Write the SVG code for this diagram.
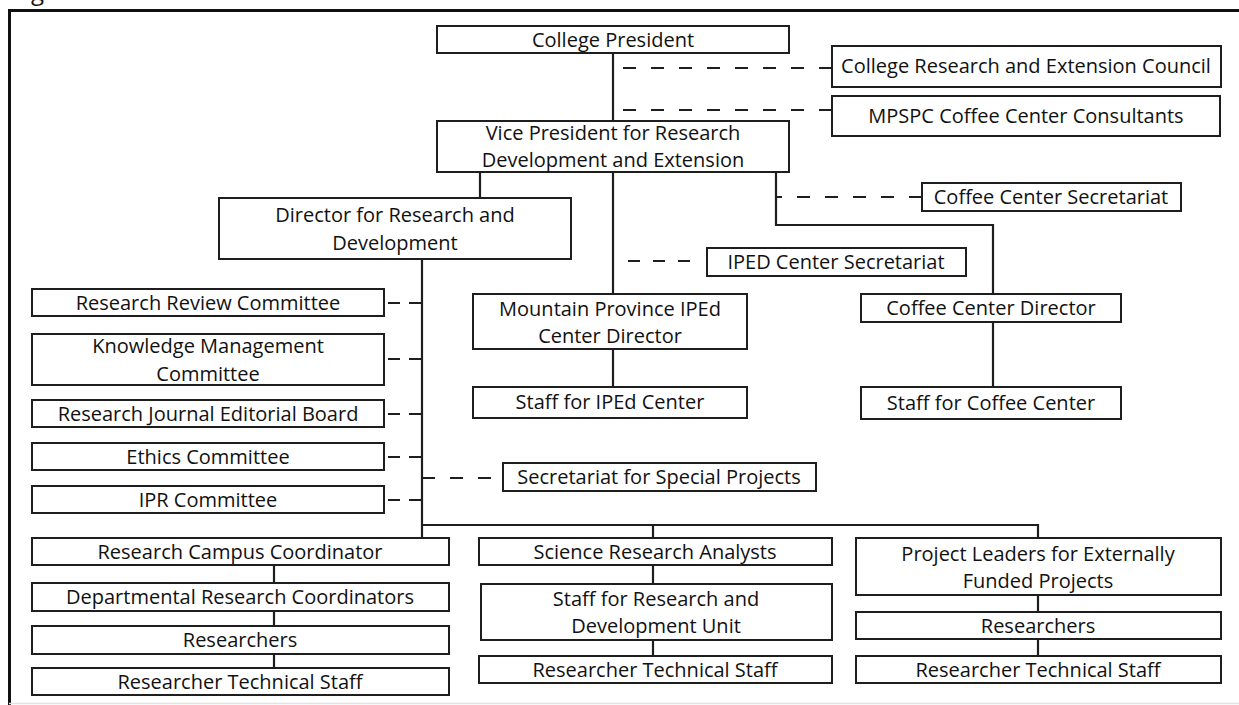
<svg xmlns="http://www.w3.org/2000/svg" width="1239" height="705" viewBox="0 0 1239 705">
<style>
.box{fill:#fff;stroke:#1e1e1e;stroke-width:2}
.t{font-family:"Open Sans","Liberation Sans",sans-serif;font-size:20px;fill:#111;text-anchor:middle}
.c{fill:none;stroke:#1e1e1e;stroke-width:2.2}
.d{fill:none;stroke:#1e1e1e;stroke-width:2.2;stroke-dasharray:13 15}
.ds{fill:none;stroke:#1e1e1e;stroke-width:2.2;stroke-dasharray:12 9}
</style>
<rect x="0" y="0" width="1239" height="705" fill="#fff"/>
<text x="31" y="0" style="font-family:'Open Sans','Liberation Sans',sans-serif;font-size:24px;fill:#111">g</text>
<path d="M9.5,705 V10.5 H1239" fill="none" stroke="#111" stroke-width="3"/>
<line x1="9" y1="703.5" x2="1239" y2="703.5" stroke="#e2e2e2" stroke-width="1.5"/>

<g id="connectors">
<path class="c" d="M613,53 V121"/>
<path class="c" d="M613,172 V294"/>
<path class="c" d="M480,172 V198"/>
<path class="c" d="M776,172 V225 H993 V294"/>
<path class="c" d="M613,349 V387"/>
<path class="c" d="M993,322 V387"/>
<path class="c" d="M422,259 V538"/>
<path class="c" d="M422,525 H1038 V538"/>
<path class="c" d="M653,525 V538"/>
<path class="c" d="M274,565 V583 M274,611 V626 M274,654 V668"/>
<path class="c" d="M653,565 V584 M653,640 V656"/>
<path class="c" d="M1038,595 V612 M1038,639 V656"/>
<path class="d" d="M832,68 H613"/>
<path class="d" d="M832,110 H613"/>
<path class="d" d="M922,197 H776"/>
<path class="c" style="stroke-dasharray:12 13" d="M628,261 H693"/>
<path class="ds" d="M388,303 H422 M388,359 H422 M388,414 H422 M388,457 H422 M388,500 H422"/>
<path class="d" d="M422,478 H491"/>
</g>

<g id="college-president"><rect class="box" x="437" y="26" width="352" height="27"/><text class="t" x="613" y="47">College President</text></g>
<g id="research-council"><rect class="box" x="832" y="46" width="389" height="41"/><text class="t" x="1026" y="73">College Research and Extension Council</text></g>
<g id="coffee-consultants"><rect class="box" x="832" y="96" width="388" height="40"/><text class="t" x="1026" y="123">MPSPC Coffee Center Consultants</text></g>
<g id="vice-president"><rect class="box" x="437" y="121" width="352" height="51"/><text class="t" x="613" y="140">Vice President for Research</text><text class="t" x="613" y="167">Development and Extension</text></g>
<g id="coffee-secretariat"><rect class="box" x="922" y="183" width="259" height="28"/><text class="t" x="1051" y="204">Coffee Center Secretariat</text></g>
<g id="director-rd"><rect class="box" x="219" y="198" width="352" height="61"/><text class="t" x="395" y="222">Director for Research and</text><text class="t" x="395" y="250">Development</text></g>
<g id="iped-secretariat"><rect class="box" x="707" y="248" width="259" height="28"/><text class="t" x="836" y="269">IPED Center Secretariat</text></g>
<g id="iped-director"><rect class="box" x="473" y="294" width="274" height="55"/><text class="t" x="610" y="316">Mountain Province IPEd</text><text class="t" x="610" y="343">Center Director</text></g>
<g id="coffee-director"><rect class="box" x="861" y="294" width="260" height="28"/><text class="t" x="991" y="315">Coffee Center Director</text></g>
<g id="iped-staff"><rect class="box" x="473" y="387" width="274" height="31"/><text class="t" x="610" y="409">Staff for IPEd Center</text></g>
<g id="coffee-staff"><rect class="box" x="861" y="387" width="260" height="32"/><text class="t" x="991" y="410">Staff for Coffee Center</text></g>
<g id="review-committee"><rect class="box" x="32" y="289" width="352" height="27"/><text class="t" x="208" y="310">Research Review Committee</text></g>
<g id="km-committee"><rect class="box" x="32" y="334" width="352" height="51"/><text class="t" x="208" y="353">Knowledge Management</text><text class="t" x="208" y="381">Committee</text></g>
<g id="journal-board"><rect class="box" x="32" y="400" width="352" height="27"/><text class="t" x="208" y="421">Research Journal Editorial Board</text></g>
<g id="ethics-committee"><rect class="box" x="32" y="443" width="352" height="27"/><text class="t" x="208" y="464">Ethics Committee</text></g>
<g id="ipr-committee"><rect class="box" x="32" y="486" width="352" height="27"/><text class="t" x="208" y="507">IPR Committee</text></g>
<g id="special-projects"><rect class="box" x="503" y="463" width="313" height="28"/><text class="t" x="659" y="484">Secretariat for Special Projects</text></g>
<g id="campus-coordinator"><rect class="box" x="32" y="538" width="417" height="27"/><text class="t" x="240" y="559">Research Campus Coordinator</text></g>
<g id="dept-coordinators"><rect class="box" x="32" y="583" width="417" height="28"/><text class="t" x="240" y="604">Departmental Research Coordinators</text></g>
<g id="researchers-left"><rect class="box" x="32" y="626" width="417" height="28"/><text class="t" x="240" y="647">Researchers</text></g>
<g id="tech-staff-left"><rect class="box" x="32" y="668" width="417" height="27"/><text class="t" x="240" y="689">Researcher Technical Staff</text></g>
<g id="science-analysts"><rect class="box" x="479" y="538" width="353" height="27"/><text class="t" x="655" y="559">Science Research Analysts</text></g>
<g id="rd-staff"><rect class="box" x="481" y="584" width="351" height="56"/><text class="t" x="656" y="606">Staff for Research and</text><text class="t" x="656" y="633">Development Unit</text></g>
<g id="tech-staff-mid"><rect class="box" x="479" y="656" width="353" height="27"/><text class="t" x="655" y="677">Researcher Technical Staff</text></g>
<g id="project-leaders"><rect class="box" x="856" y="538" width="365" height="57"/><text class="t" x="1038" y="561">Project Leaders for Externally</text><text class="t" x="1038" y="588">Funded Projects</text></g>
<g id="researchers-right"><rect class="box" x="856" y="612" width="365" height="27"/><text class="t" x="1038" y="633">Researchers</text></g>
<g id="tech-staff-right"><rect class="box" x="856" y="656" width="365" height="27"/><text class="t" x="1038" y="677">Researcher Technical Staff</text></g>
</svg>
